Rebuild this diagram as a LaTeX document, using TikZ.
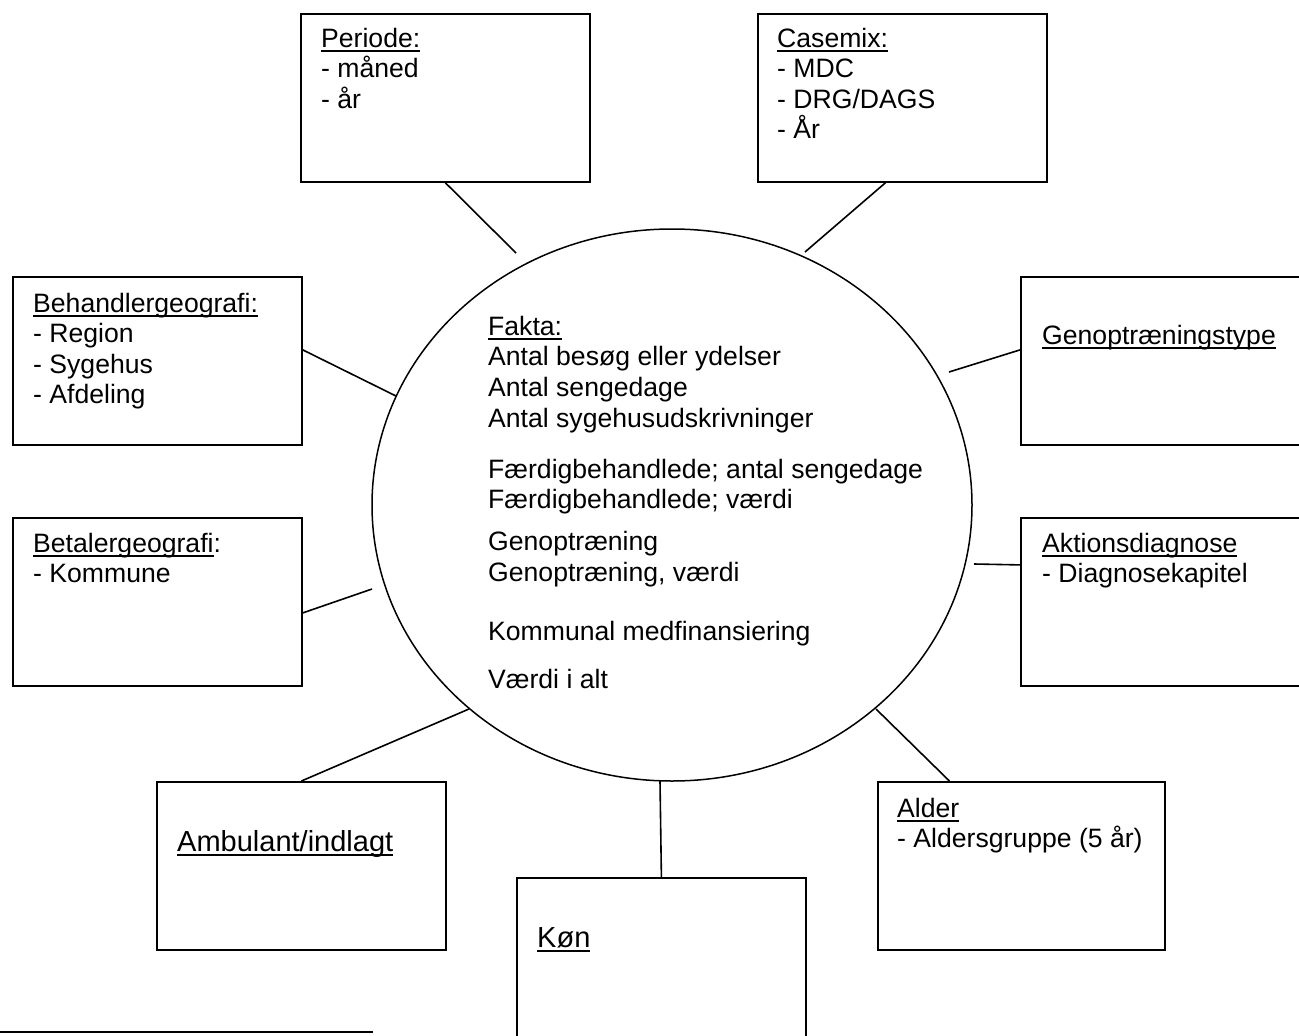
\documentclass[tikz,border=0pt]{standalone}
\usepackage{fontspec}
\setmainfont{Liberation Sans}
\usetikzlibrary{shapes.geometric}
\newcommand\ulin[1]{\setbox0\hbox{#1}\rlap{\rule[-4.8pt]{\wd0}{2pt}}\box0}
\newcommand\tstrut{\rule{0pt}{24pt}}
\begin{document}
\begin{tikzpicture}[x=1pt,y=-1pt,
  box/.style={draw, line width=1.8pt, rectangle, anchor=north west, minimum width=289pt, minimum height=168pt, inner sep=0pt},
  txt/.style={anchor=north west, inner sep=0pt, align=left, font=\fontsize{26.6}{30.5}\selectfont},
  bigtxt/.style={txt, font=\fontsize{29}{33}\selectfont},
  conn/.style={line width=1.6pt}]
\clip (0,0) rectangle (1299,1036);
\fill[white] (0,0) rectangle (1299,1036);

% boxes
\node[box] (periode) at (300,13) {};
\node[box] (casemix) at (757,13) {};
\node[box] (behandler) at (12,276) {};
\node[box] (betaler) at (12,517) {};
\node[box, minimum width=320pt] (genop) at (1020,276) {};
\node[box, minimum width=320pt] (aktion) at (1020,517) {};
\node[box] (ambulant) at (156,781) {};
\node[box, minimum height=200pt] (kon) at (516,877) {};
\node[box, minimum width=287pt] (alder) at (877,781) {};
\node[draw, ellipse, line width=1.5pt, minimum width=600pt, minimum height=552pt, inner sep=0pt] (fakta) at (672,505) {};

% texts
\node[txt] (periodeT) at (321,23) {\tstrut\ulin{Periode:}\\- måned\\- år};
\node[txt] (casemixT) at (777,23) {\tstrut\ulin{Casemix:}\\- MDC\\- DRG/DAGS\\- År};
\node[txt] (behandlerT) at (33,288) {\tstrut\ulin{Behandlergeografi:}\\- Region\\- Sygehus\\- Afdeling};
\node[txt] (betalerT) at (33,528) {\tstrut\ulin{Betalergeografi}:\\- Kommune};
\node[txt] (genopT) at (1042,320) {\tstrut\ulin{Genoptræningstype}};
\node[txt] (aktionT) at (1042,528) {\tstrut\ulin{Aktionsdiagnose}\\- Diagnosekapitel};
\node[txt] (alderT) at (897,793) {\tstrut\ulin{Alder}\\- Aldersgruppe (5 år)};
\node[bigtxt] (ambulantT) at (177,827) {\tstrut\ulin{Ambulant/indlagt}};
\node[bigtxt] (konT) at (537,923) {\tstrut\ulin{Køn}};
\node[txt, font=\fontsize{26.6}{30.7}\selectfont] (faktaT) at (488,311) {\tstrut\ulin{Fakta:}\\Antal besøg eller ydelser\\Antal sengedage\\Antal sygehusudskrivninger\\[20pt]Færdigbehandlede; antal sengedage\\Færdigbehandlede; værdi\\[11pt]Genoptræning\\Genoptræning, værdi\\[29pt]Kommunal medfinansiering\\[17pt]Værdi i alt};

% connector ends on the ellipse
\coordinate (e1) at (516,253);
\coordinate (e2) at (805,252);
\coordinate (e3) at (396,396);
\coordinate (e4) at (372,589);
\coordinate (e5) at (949,372);
\coordinate (e6) at (974,564);
\coordinate (e7) at (469,709);
\coordinate (e8) at (660,781);
\coordinate (e9) at (876,709);

\draw[conn] (periode.south) -- (e1);
\draw[conn] ([xshift=-17pt]casemix.south) -- (e2);
\draw[conn] ([yshift=11pt]behandler.east) -- (e3);
\draw[conn] ([yshift=-11pt]betaler.east) -- (e4);
\draw[conn] ([yshift=11pt]genop.west) -- (e5);
\draw[conn] ([yshift=37pt]aktion.west) -- (e6);
\draw[conn] (ambulant.north) -- (e7);
\draw[conn] (kon.north) -- (e8);
\draw[conn] ([xshift=-72pt]alder.north) -- (e9);

% footnote rule
\draw[line width=2pt] (0,1032) -- (373,1032);
\end{tikzpicture}
\end{document}
